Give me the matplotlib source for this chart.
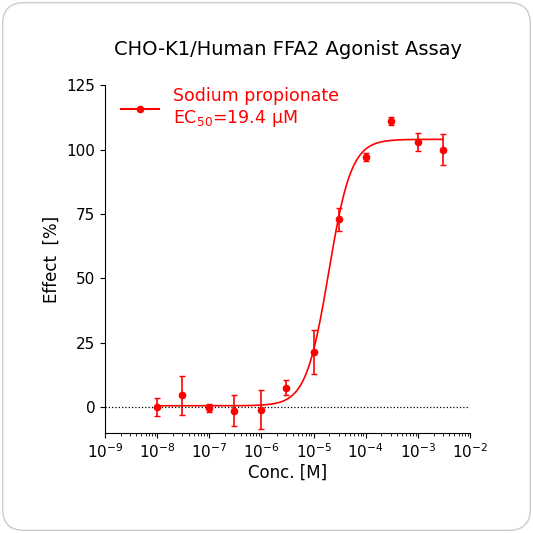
import numpy as np
import matplotlib.pyplot as plt
from matplotlib.patches import FancyBboxPatch

conc = [1e-8, 3e-8, 1e-7, 3e-7, 1e-6, 3e-6, 1e-5, 3e-5, 1e-4, 3e-4, 1e-3, 3e-3]
effect = [0, 4.5, -0.5, -1.5, -1, 7.5, 21.5, 73, 97, 111, 103, 100]
err = [3.5, 7.5, 1.5, 6, 7.5, 3, 8.5, 4.5, 1.5, 1.5, 3.5, 6]
bottom, top, ec50, hill = 0.5, 104, 19.4e-6, 2.0

fig = plt.figure(figsize=(5.33, 5.33), dpi=100)
fig.patches.append(FancyBboxPatch((0.005, 0.005), 0.99, 0.99, boxstyle="round,pad=0,rounding_size=0.04",
                                  transform=fig.transFigure, fc='white', ec='#cccccc', lw=1, zorder=-5))
ax = fig.add_axes([0.197, 0.188, 0.685, 0.652])
ax.patch.set_alpha(0)
ax.set_xscale('log')
xs = np.logspace(-8, np.log10(3e-3), 300)
ax.plot(xs, bottom + (top - bottom) / (1 + (ec50 / xs) ** hill), color='red', lw=1.2)
ax.errorbar(conc, effect, yerr=err, fmt='o', color='red', ms=4.5, capsize=2.5, elinewidth=1.2)
ax.plot([], [], 'o-', color='red', ms=4.5, label='Sodium propionate\nEC$_{50}$=19.4 μM')
ax.axhline(0, color='black', ls=':', lw=0.9)
ax.set_xlim(1e-9, 1e-2)
ax.set_ylim(-10, 125)
ax.set_yticks([0, 25, 50, 75, 100, 125])
ax.spines[['top', 'right']].set_visible(False)
ax.tick_params(labelsize=11)
ax.set_xlabel('Conc. [M]', fontsize=12, labelpad=2)
ax.set_ylabel('Effect  [%]', fontsize=12)
ax.set_title('CHO-K1/Human FFA2 Agonist Assay', fontsize=14, pad=22)
ax.legend(loc='upper left', frameon=False, fontsize=12.5, labelcolor='red', handlelength=2.2,
          bbox_to_anchor=(0.0, 1.04))
fig.savefig('out.png', dpi=100)
